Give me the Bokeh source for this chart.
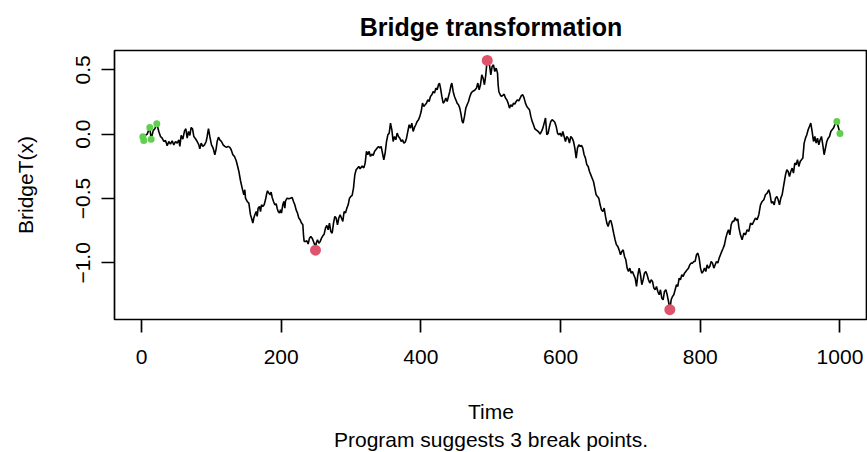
from bokeh.plotting import figure
from bokeh.models import FixedTicker, CustomJSTickFormatter, Title, Range1d
from bokeh.embed import file_html
from bokeh.resources import INLINE

# ---- data ----
time = [1.9, 3.3, 5.7, 8.1, 11.9, 13.8, 16.7, 19.1, 21.9, 24.8, 27.2, 29.6, 32.0, 34.4, 36.8, 39.1,
        41.5, 43.9, 46.3, 48.7, 51.1, 53.5, 54.9, 56.8, 59.2, 61.6, 63.5, 65.4, 67.3, 69.2, 71.1,
        73.0, 74.9, 77.3, 79.7, 82.1, 83.5, 85.4, 87.8, 90.2, 92.6, 94.0, 95.9, 97.8, 100.2, 102.6,
        105.0, 106.9, 108.3, 110.2, 112.1, 114.5, 116.9, 119.3, 121.7, 124.1, 126.5, 128.4, 130.8,
        133.1, 135.5, 137.9, 139.8, 141.7, 144.1, 146.5, 147.9, 148.9, 151.3, 153.7, 156.0, 157.5,
        159.4, 160.8, 162.3, 164.2, 165.6, 167.0, 168.9, 170.4, 171.8, 173.7, 175.6, 177.5, 178.9,
        180.4, 182.3, 184.2, 185.6, 187.1, 189.0, 190.9, 192.8, 194.2, 195.7, 197.6, 199.0, 200.4,
        202.3, 203.8, 205.2, 206.2, 208.5, 210.9, 213.3, 215.7, 217.6, 219.5, 221.4, 223.3, 225.2,
        227.1, 229.1, 231.0, 231.9, 232.9, 234.8, 236.7, 238.6, 240.5, 242.4, 244.3, 246.2, 248.1,
        249.1, 250.1, 252.0, 253.9, 255.8, 257.7, 259.6, 261.5, 263.4, 265.3, 267.2, 269.1, 271.0,
        273.0, 274.9, 276.8, 278.7, 280.6, 282.5, 284.4, 286.3, 288.2, 290.1, 292.0, 294.0, 295.9,
        297.8, 299.7, 301.6, 303.5, 305.4, 307.3, 309.2, 311.1, 313.0, 315.9, 318.3, 320.2, 322.1,
        324.0, 325.9, 327.8, 329.8, 331.7, 333.6, 335.5, 337.4, 339.3, 341.2, 343.1, 345.0, 346.9,
        348.8, 350.8, 352.7, 354.6, 356.5, 358.4, 360.3, 362.2, 364.1, 366.0, 367.9, 369.8, 371.8,
        373.7, 375.6, 377.5, 379.4, 381.3, 383.2, 385.1, 387.0, 388.9, 390.8, 392.7, 394.7, 396.6,
        398.5, 400.4, 402.3, 404.2, 406.1, 408.0, 409.9, 411.8, 413.7, 415.7, 417.6, 419.5, 421.4,
        423.3, 425.2, 426.6, 428.1, 430.0, 431.9, 433.8, 435.7, 437.6, 439.5, 441.4, 443.3, 444.3,
        446.2, 448.1, 450.0, 451.9, 453.8, 455.7, 457.6, 459.1, 460.5, 462.4, 464.3, 466.2, 468.2,
        470.1, 472.0, 473.9, 475.8, 477.7, 479.6, 481.5, 483.4, 485.3, 487.2, 489.1, 491.0, 492.9,
        494.0, 495.0, 498.2, 500.1, 502.0, 503.9, 505.8, 507.8, 509.7, 510.6, 511.6, 513.5, 515.4,
        517.3, 519.2, 521.1, 523.0, 524.9, 526.8, 528.7, 530.7, 532.6, 534.5, 536.4, 538.3, 540.2,
        542.1, 544.0, 545.9, 547.8, 549.7, 551.7, 553.6, 555.5, 557.4, 559.3, 561.2, 563.1, 565.0,
        566.9, 568.8, 570.7, 572.7, 574.6, 576.5, 578.4, 580.3, 582.2, 584.1, 586.0, 587.9, 589.8,
        591.7, 593.7, 595.6, 597.5, 599.4, 601.3, 603.2, 605.1, 607.0, 608.9, 610.8, 612.7, 614.6,
        616.6, 618.5, 620.4, 622.3, 624.2, 626.1, 628.0, 629.9, 631.8, 633.7, 635.6, 637.6, 639.5,
        641.4, 643.3, 645.2, 647.1, 649.0, 650.9, 652.8, 654.7, 656.6, 658.5, 660.5, 662.4, 664.3,
        666.2, 668.1, 670.0, 671.9, 673.8, 676.0, 678.0, 680.0, 681.9, 683.8, 685.8, 687.7, 689.6,
        691.5, 693.4, 695.3, 697.2, 699.1, 701.0, 702.9, 704.8, 706.8, 708.7, 710.6, 712.5, 714.4,
        716.3, 718.2, 720.1, 722.0, 723.9, 725.8, 727.7, 729.7, 731.6, 733.5, 735.4, 737.3, 739.2,
        741.1, 743.0, 744.9, 746.8, 748.7, 750.7, 752.6, 754.5, 756.4, 758.3, 760.2, 762.1, 764.0,
        765.9, 767.8, 769.7, 771.6, 773.6, 775.5, 777.4, 779.3, 781.2, 783.1, 785.0, 786.9, 788.8,
        790.7, 792.6, 794.6, 796.5, 798.4, 800.3, 802.2, 804.1, 806.0, 807.9, 809.8, 811.7, 813.6,
        815.6, 817.5, 819.4, 821.3, 823.2, 825.1, 827.0, 828.9, 830.8, 832.7, 834.6, 836.5, 838.5,
        840.4, 842.3, 844.2, 846.1, 848.0, 849.9, 851.8, 853.7, 855.4, 857.5, 859.9, 862.3, 864.7,
        867.1, 869.5, 871.9, 874.3, 876.6, 879.0, 881.4, 883.8, 886.2, 888.6, 891.0, 893.3, 895.7,
        898.1, 900.0, 901.9, 903.8, 905.8, 907.7, 909.6, 911.5, 913.4, 915.3, 917.2, 919.6, 922.0,
        923.9, 925.8, 927.7, 929.6, 931.5, 933.4, 935.3, 937.2, 939.2, 941.1, 943.0, 944.9, 946.8,
        948.7, 950.6, 952.5, 954.4, 956.3, 958.2, 960.1, 962.1, 964.0, 965.9, 967.8, 969.7, 971.6,
        973.5, 975.4, 977.3, 979.2, 981.1, 983.1, 985.0, 986.9, 988.8, 990.7, 992.6, 994.5, 995.5,
        997.4, 999.3, 1000.0]

bridge = [-0.020, -0.049, -0.010, 0.000, 0.052, -0.039, 0.026, 0.042, 0.081, 0.021, -0.018, -0.031,
          -0.057, -0.049, -0.090, -0.057, -0.077, -0.052, -0.083, -0.057, -0.070, -0.044, -0.095,
          -0.010, -0.039, 0.026, 0.042, -0.031, 0.021, -0.010, 0.052, 0.042, -0.018, -0.036,
          -0.057, -0.083, -0.114, -0.070, -0.095, -0.083, -0.057, -0.018, 0.042, -0.018, -0.083,
          -0.109, -0.160, -0.114, -0.057, -0.023, -0.044, -0.057, -0.083, -0.095, -0.103, -0.095,
          -0.103, -0.121, -0.160, -0.173, -0.205, -0.255, -0.300, -0.360, -0.419, -0.471, -0.432,
          -0.497, -0.523, -0.536, -0.626, -0.652, -0.691, -0.652, -0.626, -0.601, -0.639, -0.575,
          -0.562, -0.601, -0.549, -0.562, -0.549, -0.510, -0.471, -0.440, -0.458, -0.471, -0.450,
          -0.492, -0.523, -0.549, -0.541, -0.575, -0.601, -0.613, -0.588, -0.613, -0.549, -0.523,
          -0.575, -0.518, -0.497, -0.502, -0.497, -0.492, -0.523, -0.549, -0.588, -0.613, -0.652,
          -0.665, -0.691, -0.704, -0.782, -0.834, -0.834, -0.828, -0.854, -0.808, -0.795, -0.808,
          -0.834, -0.860, -0.901, -0.847, -0.821, -0.847, -0.834, -0.808, -0.790, -0.777, -0.730,
          -0.709, -0.743, -0.691, -0.756, -0.769, -0.691, -0.639, -0.652, -0.704, -0.652, -0.626,
          -0.652, -0.678, -0.601, -0.613, -0.575, -0.549, -0.497, -0.484, -0.476, -0.419, -0.316,
          -0.277, -0.264, -0.251, -0.269, -0.247, -0.262, -0.225, -0.134, -0.160, -0.134, -0.173,
          -0.155, -0.165, -0.134, -0.121, -0.108, -0.095, -0.108, -0.095, -0.147, -0.199, -0.147,
          -0.057, -0.005, 0.008, 0.086, 0.034, -0.057, -0.018, -0.044, 0.008, -0.018, -0.031,
          -0.057, -0.044, -0.070, -0.062, -0.031, 0.021, 0.073, 0.047, 0.086, 0.021, 0.052, 0.073,
          0.099, 0.112, 0.138, 0.176, 0.241, 0.215, 0.228, 0.241, 0.267, 0.254, 0.293, 0.306,
          0.332, 0.319, 0.358, 0.345, 0.384, 0.397, 0.358, 0.293, 0.241, 0.254, 0.280, 0.254,
          0.293, 0.332, 0.384, 0.397, 0.332, 0.293, 0.267, 0.241, 0.228, 0.202, 0.150, 0.099,
          0.086, 0.138, 0.202, 0.228, 0.254, 0.293, 0.319, 0.332, 0.337, 0.345, 0.358, 0.397,
          0.345, 0.384, 0.461, 0.435, 0.384, 0.461, 0.526, 0.573, 0.539, 0.461, 0.526, 0.539,
          0.487, 0.513, 0.474, 0.384, 0.332, 0.306, 0.293, 0.301, 0.311, 0.280, 0.267, 0.241,
          0.202, 0.228, 0.215, 0.241, 0.233, 0.254, 0.267, 0.259, 0.280, 0.301, 0.306, 0.280,
          0.241, 0.215, 0.202, 0.189, 0.138, 0.099, 0.073, 0.042, 0.034, 0.026, 0.016, 0.000,
          0.021, 0.047, 0.086, 0.125, -0.005, 0.008, 0.060, 0.099, 0.112, 0.104, 0.093, 0.060,
          0.008, -0.005, 0.008, -0.018, 0.021, -0.018, -0.057, -0.018, -0.031, -0.070, -0.018,
          -0.031, -0.057, -0.108, -0.186, -0.108, -0.083, -0.095, -0.088, -0.108, -0.160, -0.186,
          -0.238, -0.251, -0.290, -0.316, -0.342, -0.368, -0.419, -0.471, -0.484, -0.497, -0.549,
          -0.588, -0.601, -0.575, -0.639, -0.691, -0.717, -0.678, -0.670, -0.710, -0.770, -0.820,
          -0.860, -0.873, -0.899, -0.937, -0.911, -0.899, -0.950, -0.976, -1.041, -1.067, -1.041,
          -1.080, -1.067, -1.093, -1.119, -1.183, -1.093, -1.041, -1.093, -1.170, -1.131, -1.080,
          -1.067, -1.093, -1.131, -1.157, -1.131, -1.144, -1.196, -1.209, -1.183, -1.222, -1.248,
          -1.209, -1.274, -1.287, -1.222, -1.209, -1.248, -1.300, -1.364, -1.287, -1.261, -1.248,
          -1.209, -1.170, -1.183, -1.119, -1.131, -1.093, -1.106, -1.080, -1.067, -1.054, -1.041,
          -1.015, -1.002, -1.002, -0.989, -0.989, -0.937, -0.924, -0.963, -1.041, -1.080, -1.067,
          -1.041, -1.067, -1.015, -1.041, -1.028, -0.989, -1.002, -1.041, -1.015, -0.989, -1.002,
          -0.963, -0.937, -0.911, -0.886, -0.860, -0.808, -0.769, -0.743, -0.782, -0.704, -0.678,
          -0.678, -0.647, -0.672, -0.658, -0.730, -0.782, -0.821, -0.769, -0.782, -0.743, -0.756,
          -0.691, -0.704, -0.678, -0.652, -0.665, -0.626, -0.549, -0.523, -0.510, -0.471, -0.458,
          -0.432, -0.471, -0.536, -0.523, -0.549, -0.497, -0.484, -0.510, -0.549, -0.497, -0.471,
          -0.393, -0.316, -0.277, -0.290, -0.329, -0.290, -0.264, -0.303, -0.225, -0.238, -0.199,
          -0.251, -0.212, -0.199, -0.186, -0.070, -0.031, -0.005, 0.034, 0.060, 0.086, 0.021,
          -0.057, -0.018, -0.070, -0.031, -0.083, -0.044, -0.018, -0.083, -0.160, -0.108, -0.057,
          -0.031, -0.018, 0.021, 0.034, 0.047, 0.073, 0.086, 0.099, 0.060, 0.021, 0.005]

# suggested break points (red) and boundary candidates (green)
break_time = [249.1, 495.0, 756.4]
break_value = [-0.901, 0.573, -1.364]
cand_time = [1.9, 3.3, 11.9, 13.8, 21.9, 995.5, 1000.0]
cand_value = [-0.020, -0.049, 0.052, -0.039, 0.081, 0.099, 0.005]

x_ticks = [0, 200, 400, 600, 800, 1000]
y_ticks = [-1.0, -0.5, 0.0, 0.5]

FONT = "Liberation Sans"
LBL = "21px"

p = figure(width=867, height=452, output_backend="svg", toolbar_location=None,
           x_range=Range1d(-38.65, 1039.4), y_range=Range1d(-1.44, 0.65),
           min_border_left=114, min_border_right=0, min_border_top=49,
           min_border_bottom=133, background_fill_color="white",
           border_fill_color="white")

p.title.text = "Bridge transformation"
p.title.align = "center"
p.title.text_font = FONT
p.title.text_font_size = "25px"
p.title.text_font_style = "bold"
p.title.text_color = "black"
p.title.standoff = 20

p.grid.visible = False
p.outline_line_color = "black"
p.outline_line_width = 1.7

p.line(time, bridge, line_color="black", line_width=1.6)
p.scatter(cand_time, cand_value, size=7, color="#61D04F", line_color=None)
p.scatter(break_time, break_value, size=11, color="#DF536B", line_color=None)

xa = p.xaxis[0]
xa.ticker = FixedTicker(ticks=x_ticks)
xa.axis_label = "Time"
xa.axis_label_standoff = 33
xa.major_label_standoff = 17
ya = p.yaxis[0]
ya.ticker = FixedTicker(ticks=y_ticks)
ya.formatter = CustomJSTickFormatter(code="return tick.toFixed(1).replace('-', '\u2212');")
ya.axis_label = "BridgeT(x)"
ya.major_label_orientation = "vertical"
ya.major_label_standoff = 11
ya.axis_label_standoff = 37

for ax in (xa, ya):
    ax.axis_line_color = None
    ax.major_tick_line_color = "black"
    ax.major_tick_line_width = 1.7
    ax.major_tick_out = 13
    ax.major_tick_in = 0
    ax.minor_tick_line_color = None
    ax.major_label_text_font = FONT
    ax.major_label_text_font_size = LBL
    ax.major_label_text_color = "black"
    ax.axis_label_text_font = FONT
    ax.axis_label_text_font_size = LBL
    ax.axis_label_text_font_style = "normal"
    ax.axis_label_text_color = "black"

sub = Title(text="Program suggests 3 break points.", align="center",
            text_font=FONT, text_font_size=LBL, text_font_style="normal",
            text_color="black", standoff=0)
p.add_layout(sub, "below")

open("out.html", "w").write(file_html(p, INLINE))
